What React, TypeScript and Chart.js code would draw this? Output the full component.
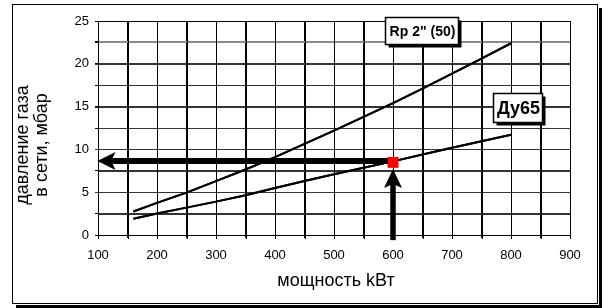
import { useEffect, useRef } from "react";
import { Chart, registerables } from "chart.js";

Chart.register(...registerables);

// ---- data ----
const powerKW = [160, 200, 250, 300, 350, 400, 450, 500, 550, 600, 650, 700, 750, 800];
const pressureRp2 = [2.75, 3.75, 4.95, 6.3, 7.65, 9.1, 10.65, 12.2, 13.8, 15.4, 17.1, 18.85, 20.6, 22.4];
const pressureDy65 = [1.9, 2.5, 3.2, 3.9, 4.65, 5.5, 6.3, 7.1, 7.85, 8.6, 9.4, 10.2, 10.95, 11.7];
const seriesNames = ['Rp 2" (50)', "Ду65"];
const seriesLabelX = [648, 811];
const seriesLabelY = [23.9, 14.9];
const selectedPower = [600];
const selectedPressure = [8.5];
const hArrowX = [600, 99];
const hArrowY = [8.65, 8.65];
const vArrowX = [600, 600];
const vArrowY = [-0.6, 7.7];
const xRange = [100, 900];
const yRange = [0, 25];
const xStep = 50;
const yStep = 2.5;
const xLabelEvery = 100;
const yLabelEvery = 5;
const xAxisTitle = "мощность kВт";
const yAxisTitle = ["давление газа", "в сети, мбар"];

const FONT = '"Liberation Sans", Arial, sans-serif';

function drawArrow(ctx: CanvasRenderingContext2D, x1: number, y1: number, x2: number, y2: number, shaft: number, headLen: number, headW: number) {
  const dx = x2 - x1, dy = y2 - y1;
  const len = Math.hypot(dx, dy);
  const ux = dx / len, uy = dy / len;
  const px = -uy, py = ux;
  const bx = x2 - ux * headLen, by = y2 - uy * headLen;
  const ex = bx + ux * 4, ey = by + uy * 4;
  ctx.beginPath();
  ctx.moveTo(x1 + px * shaft / 2, y1 + py * shaft / 2);
  ctx.lineTo(ex + px * shaft / 2, ey + py * shaft / 2);
  ctx.lineTo(ex - px * shaft / 2, ey - py * shaft / 2);
  ctx.lineTo(x1 - px * shaft / 2, y1 - py * shaft / 2);
  ctx.closePath();
  ctx.fill();
  ctx.beginPath();
  ctx.moveTo(x2, y2);
  ctx.lineTo(bx - ux + px * headW / 2, by - uy + py * headW / 2);
  ctx.lineTo(bx + ux * 3, by + uy * 3);
  ctx.lineTo(bx - ux - px * headW / 2, by - uy - py * headW / 2);
  ctx.closePath();
  ctx.fill();
}

function drawGrid(chart: any) {
  const ctx = chart.ctx as CanvasRenderingContext2D;
  const xs = chart.scales.x, ys = chart.scales.y;
  const a = chart.chartArea;
  ctx.save();
  ys.ticks.forEach((t: any) => {
    const y = Math.round(ys.getPixelForValue(t.value));
    if (t.value === 22.5) {
      ctx.fillStyle = "#8c8c8c";
      ctx.fillRect(a.left, y - 1, a.right - a.left, 2);
    } else {
      ctx.fillStyle = t.value === yRange[0] || t.value === yRange[1] ? "#000" : "#333";
      const major = t.value % yLabelEvery === 0;
      ctx.fillRect(a.left - (major ? 3 : 0), y, a.right - a.left + (major ? 3 : 0) + 1, 1);
    }
  });
  ctx.fillStyle = "#000";
  xs.ticks.forEach((t: any) => {
    const x = Math.round(xs.getPixelForValue(t.value));
    ctx.fillRect(x, a.top, 1, a.bottom - a.top + 4);
  });
  ctx.restore();
}

function drawArrows(chart: any) {
  const ctx = chart.ctx as CanvasRenderingContext2D;
  const xs = chart.scales.x, ys = chart.scales.y;
  ctx.save();
  ctx.fillStyle = "#000";
  drawArrow(ctx, xs.getPixelForValue(hArrowX[0]), ys.getPixelForValue(hArrowY[0]), xs.getPixelForValue(hArrowX[1]), ys.getPixelForValue(hArrowY[1]), 6, 17, 18);
  drawArrow(ctx, xs.getPixelForValue(vArrowX[0]), ys.getPixelForValue(vArrowY[0]), xs.getPixelForValue(vArrowX[1]), ys.getPixelForValue(vArrowY[1]), 5.5, 18, 18);
  ctx.restore();
}

export default function App() {
  const ref = useRef<HTMLCanvasElement>(null);

  useEffect(() => {
    const canvas = ref.current!;
    const overlay = {
      id: "overlay",
      beforeDraw(chart: any) {
        const ctx = chart.ctx as CanvasRenderingContext2D;
        ctx.save();
        ctx.fillStyle = "#fff";
        ctx.fillRect(0, 0, chart.width, chart.height);
        ctx.strokeStyle = "#000";
        ctx.lineWidth = 1;
        ctx.strokeRect(12.5, 4.5, 585, 299);
        ctx.fillStyle = "#000";
        ctx.fillRect(599, 8, 3, 300);
        ctx.fillRect(16, 305, 586, 3);
        ctx.restore();
      },
      afterDatasetsDraw(chart: any) {
        const ctx = chart.ctx as CanvasRenderingContext2D;
        const xs = chart.scales.x, ys = chart.scales.y;
        const area = chart.chartArea;
        // grid again, then arrows and the marked point on top of it
        drawGrid(chart);
        drawArrows(chart);
        [1, 2].forEach((di) => {
          const meta = chart.getDatasetMeta(di);
          if (meta && meta.dataset) meta.dataset.draw(ctx, area);
        });
        const pointMeta = chart.getDatasetMeta(0);
        pointMeta.data.forEach((el: any) => el.draw(ctx, area));
        ctx.save();
        const fonts = [`bold 14px ${FONT}`, `bold 18px ${FONT}`];
        const widths = [73, 49];
        const heights = [27, 29];
        seriesNames.forEach((name, i) => {
          const w = widths[i];
          const h = heights[i];
          const cx = xs.getPixelForValue(seriesLabelX[i]);
          const cy = ys.getPixelForValue(seriesLabelY[i]);
          const x0 = Math.round(cx - w / 2) + 0.5;
          const y0 = Math.round(cy - h / 2) + 0.5;
          ctx.fillStyle = "#000";
          ctx.fillRect(x0 + 3, y0 + 3, w, h);
          ctx.fillStyle = "#fff";
          ctx.fillRect(x0, y0, w, h);
          ctx.strokeStyle = "#000";
          ctx.lineWidth = 1.5;
          ctx.strokeRect(x0, y0, w, h);
          ctx.fillStyle = "#000";
          ctx.font = fonts[i];
          ctx.textAlign = "center";
          ctx.textBaseline = "middle";
          ctx.fillText(name, x0 + w / 2 + 0.5, y0 + h / 2 + 1);
        });
        ctx.fillStyle = "#000";
        ctx.font = `18px ${FONT}`;
        ctx.textAlign = "center";
        ctx.textBaseline = "alphabetic";
        ctx.fillText(xAxisTitle, (area.left + area.right) / 2 + 2, 286);
        const baselines = [28, 47];
        yAxisTitle.forEach((line, i) => {
          ctx.save();
          ctx.translate(baselines[i], 145);
          ctx.rotate(-Math.PI / 2);
          ctx.fillText(line, 0, 0);
          ctx.restore();
        });
        ctx.restore();
      },
    };

    const chart = new Chart(canvas, {
      type: "line",
      data: {
        datasets: [
          {
            type: "scatter",
            label: "point",
            data: selectedPower.map((x, i) => ({ x, y: selectedPressure[i] })),
            pointStyle: "rect",
            pointRadius: 7.5,
            pointBackgroundColor: "#ff0000",
            pointBorderColor: "#ff0000",
            pointBorderWidth: 0,
            order: 0,
          } as any,
          {
            label: seriesNames[0],
            data: powerKW.map((x, i) => ({ x, y: pressureRp2[i] })),
            borderColor: "#000",
            borderWidth: 2,
            pointRadius: 0,
            tension: 0,
            fill: false,
            order: 1,
          },
          {
            label: seriesNames[1],
            data: powerKW.map((x, i) => ({ x, y: pressureDy65[i] })),
            borderColor: "#000",
            borderWidth: 2,
            pointRadius: 0,
            tension: 0,
            fill: false,
            order: 2,
          },
        ],
      },
      options: {
        animation: false,
        responsive: false,
        devicePixelRatio: 1,
        events: [],
        layout: { padding: { left: 0, top: 21, right: 34, bottom: 0 } },
        plugins: { legend: { display: false }, tooltip: { enabled: false } },
        scales: {
          x: {
            type: "linear",
            min: xRange[0],
            max: xRange[1],
            ticks: {
              stepSize: xStep,
              autoSkip: false,
              maxRotation: 0,
              color: "#000",
              padding: 10,
              font: { size: 13, family: FONT },
              callback: (v: any) => (Number(v) % xLabelEvery === 0 ? String(v) : ""),
            },
            grid: { color: "#000", lineWidth: 1, tickLength: 3, tickColor: "#000" },
            border: { color: "#000", width: 1 },
            afterFit: (s: any) => {
              s.height = 73;
            },
          },
          y: {
            type: "linear",
            min: yRange[0],
            max: yRange[1],
            ticks: {
              stepSize: yStep,
              autoSkip: false,
              color: "#000",
              padding: 6,
              font: { size: 13, family: FONT },
              callback: (v: any) => (Number(v) % yLabelEvery === 0 ? String(v) : ""),
            },
            grid: {
              color: (c: any) => (c.tick && c.tick.value === 22.5 ? "#8c8c8c" : c.tick && c.tick.value === 25 ? "#000" : "#333"),
              lineWidth: (c: any) => (c.tick && c.tick.value === 22.5 ? 2 : 1),
              tickLength: 3,
              tickColor: "#000",
            },
            border: { color: "#000", width: 1 },
            afterFit: (s: any) => {
              s.width = 98;
            },
          },
        },
      } as any,
      plugins: [overlay],
    });
    return () => chart.destroy();
  }, []);

  return (
    <div style={{ position: "absolute", left: 0, top: 0, width: 604, height: 308, background: "#fff" }}>
      <canvas ref={ref} width={604} height={308} style={{ display: "block", width: 604, height: 308 }} />
    </div>
  );
}
